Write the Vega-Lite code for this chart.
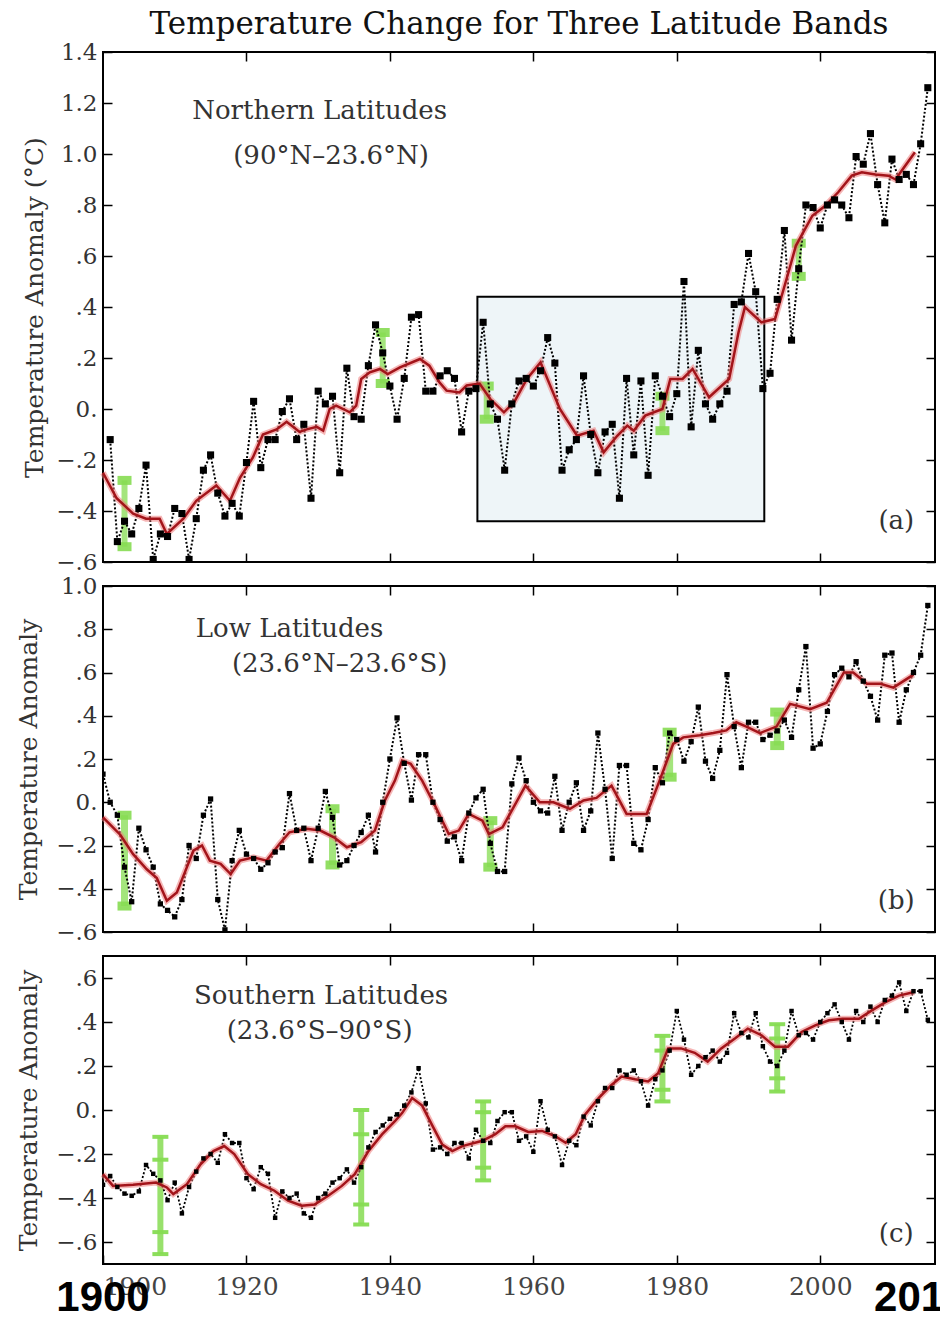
{
  "$schema": "https://vega.github.io/schema/vega-lite/v6.json",
  "background": "white",
  "padding": {"left": 15, "top": 8, "right": 0, "bottom": 0},
  "bounds": "flush",
  "spacing": 24,
  "config": {
    "view": {"stroke": "black", "strokeWidth": 2},
    "font": "DejaVu Serif",
    "axis": {"domain": false, "grid": false, "tickColor": "black", "tickWidth": 1.5, "tickSize": -9, "labelFont": "DejaVu Serif", "labelFontSize": 23, "labelColor": "#333", "titleFont": "DejaVu Serif", "titleFontWeight": "normal", "titleFontSize": 25, "titleColor": "#333"}
  },
  "datasets": {
    "obsA": [
      {"year":1901,"t":-0.12},{"year":1902,"t":-0.52},{"year":1903,"t":-0.44},{"year":1904,"t":-0.49},{"year":1905,"t":-0.39},{"year":1906,"t":-0.22},{"year":1907,"t":-0.59},{"year":1908,"t":-0.49},{"year":1909,"t":-0.50},{"year":1910,"t":-0.39},
      {"year":1911,"t":-0.41},{"year":1912,"t":-0.59},{"year":1913,"t":-0.43},{"year":1914,"t":-0.24},{"year":1915,"t":-0.18},{"year":1916,"t":-0.33},{"year":1917,"t":-0.42},{"year":1918,"t":-0.37},{"year":1919,"t":-0.42},{"year":1920,"t":-0.21},
      {"year":1921,"t":0.03},{"year":1922,"t":-0.23},{"year":1923,"t":-0.12},{"year":1924,"t":-0.12},{"year":1925,"t":-0.01},{"year":1926,"t":0.04},{"year":1927,"t":-0.12},{"year":1928,"t":-0.06},{"year":1929,"t":-0.35},{"year":1930,"t":0.07},
      {"year":1931,"t":0.02},{"year":1932,"t":0.05},{"year":1933,"t":-0.25},{"year":1934,"t":0.16},{"year":1935,"t":-0.03},{"year":1936,"t":-0.04},{"year":1937,"t":0.17},{"year":1938,"t":0.33},{"year":1939,"t":0.22},{"year":1940,"t":0.09},
      {"year":1941,"t":-0.04},{"year":1942,"t":0.12},{"year":1943,"t":0.36},{"year":1944,"t":0.37},{"year":1945,"t":0.07},{"year":1946,"t":0.07},{"year":1947,"t":0.13},{"year":1948,"t":0.15},{"year":1949,"t":0.12},{"year":1950,"t":-0.09},
      {"year":1951,"t":0.07},{"year":1952,"t":0.08},{"year":1953,"t":0.34},{"year":1954,"t":0.02},{"year":1955,"t":-0.04},{"year":1956,"t":-0.24},{"year":1957,"t":0.02},{"year":1958,"t":0.11},{"year":1959,"t":0.12},{"year":1960,"t":0.09},
      {"year":1961,"t":0.15},{"year":1962,"t":0.28},{"year":1963,"t":0.18},{"year":1964,"t":-0.24},{"year":1965,"t":-0.16},{"year":1966,"t":-0.12},{"year":1967,"t":0.13},{"year":1968,"t":-0.10},{"year":1969,"t":-0.25},{"year":1970,"t":-0.09},
      {"year":1971,"t":-0.06},{"year":1972,"t":-0.35},{"year":1973,"t":0.12},{"year":1974,"t":-0.18},{"year":1975,"t":0.11},{"year":1976,"t":-0.26},{"year":1977,"t":0.13},{"year":1978,"t":0.05},{"year":1979,"t":-0.03},{"year":1980,"t":0.06},
      {"year":1981,"t":0.50},{"year":1982,"t":-0.07},{"year":1983,"t":0.23},{"year":1984,"t":0.02},{"year":1985,"t":-0.04},{"year":1986,"t":0.02},{"year":1987,"t":0.07},{"year":1988,"t":0.41},{"year":1989,"t":0.42},{"year":1990,"t":0.61},
      {"year":1991,"t":0.46},{"year":1992,"t":0.08},{"year":1993,"t":0.14},{"year":1994,"t":0.43},{"year":1995,"t":0.70},{"year":1996,"t":0.27},{"year":1997,"t":0.55},{"year":1998,"t":0.80},{"year":1999,"t":0.79},{"year":2000,"t":0.71},
      {"year":2001,"t":0.80},{"year":2002,"t":0.82},{"year":2003,"t":0.80},{"year":2004,"t":0.75},{"year":2005,"t":0.99},{"year":2006,"t":0.96},{"year":2007,"t":1.08},{"year":2008,"t":0.88},{"year":2009,"t":0.73},{"year":2010,"t":0.98},
      {"year":2011,"t":0.90},{"year":2012,"t":0.92},{"year":2013,"t":0.88},{"year":2014,"t":1.04},{"year":2015,"t":1.26}
    ],
    "smoothA": [
      {"year":1900,"t":-0.25},{"year":1901.9,"t":-0.35},{"year":1904.2,"t":-0.41},{"year":1906,"t":-0.43},{"year":1907.9,"t":-0.43},{"year":1908.9,"t":-0.49},{"year":1911.2,"t":-0.43},{"year":1913,"t":-0.36},{"year":1915.8,"t":-0.30},{"year":1917.7,"t":-0.36},
      {"year":1919.1,"t":-0.27},{"year":1920.9,"t":-0.19},{"year":1922.3,"t":-0.10},{"year":1924.2,"t":-0.08},{"year":1925.6,"t":-0.05},{"year":1926.5,"t":-0.07},{"year":1927.4,"t":-0.09},{"year":1928.4,"t":-0.08},{"year":1929.8,"t":-0.07},{"year":1930.7,"t":-0.085},
      {"year":1931.6,"t":0.0},{"year":1932.5,"t":0.013},{"year":1933.5,"t":0.0},{"year":1934.4,"t":-0.013},{"year":1935.3,"t":0.013},{"year":1936,"t":0.118},{"year":1937.2,"t":0.144},{"year":1938.6,"t":0.157},{"year":1939.7,"t":0.137},{"year":1941.4,"t":0.163},
      {"year":1944.2,"t":0.196},{"year":1945.5,"t":0.17},{"year":1946.9,"t":0.105},{"year":1947.9,"t":0.072},{"year":1949.7,"t":0.065},{"year":1950.7,"t":0.092},{"year":1952.5,"t":0.10},{"year":1954,"t":0.039},{"year":1955.9,"t":-0.013},{"year":1957.3,"t":0.026},
      {"year":1959.1,"t":0.118},{"year":1961,"t":0.183},{"year":1963.7,"t":0.0},{"year":1966.1,"t":-0.105},{"year":1968.4,"t":-0.085},{"year":1969.8,"t":-0.17},{"year":1971.7,"t":-0.105},{"year":1973.1,"t":-0.065},{"year":1974,"t":-0.085},{"year":1975.6,"t":-0.026},
      {"year":1978,"t":0.0},{"year":1979.1,"t":0.118},{"year":1980.8,"t":0.118},{"year":1982.2,"t":0.157},{"year":1984.5,"t":0.046},{"year":1987.3,"t":0.118},{"year":1988.6,"t":0.30},{"year":1989.5,"t":0.40},{"year":1991.8,"t":0.34},{"year":1993.7,"t":0.353},
      {"year":1995.7,"t":0.549},{"year":1996.6,"t":0.64},{"year":1998.9,"t":0.758},{"year":2000.7,"t":0.797},{"year":2002.5,"t":0.85},{"year":2004.4,"t":0.915},{"year":2005.8,"t":0.928},{"year":2007.7,"t":0.92},{"year":2009.5,"t":0.915},{"year":2010.5,"t":0.90},
      {"year":2011.5,"t":0.94},{"year":2013.2,"t":1.007}
    ],
    "errA": [
      {"year":1903,"lo":-0.54,"hi":-0.28},{"year":1939,"lo":0.10,"hi":0.30},{"year":1953.5,"lo":-0.04,"hi":0.09},{"year":1978,"lo":-0.085,"hi":0.05},{"year":1997,"lo":0.52,"hi":0.65}
    ],
    "obsB": [
      {"year":1900,"t":0.13},{"year":1901,"t":0.0},{"year":1902,"t":-0.06},{"year":1903,"t":-0.30},{"year":1904,"t":-0.46},{"year":1905,"t":-0.12},{"year":1906,"t":-0.22},{"year":1907,"t":-0.30},{"year":1908,"t":-0.47},{"year":1909,"t":-0.50},
      {"year":1910,"t":-0.53},{"year":1911,"t":-0.45},{"year":1912,"t":-0.20},{"year":1913,"t":-0.26},{"year":1914,"t":-0.06},{"year":1915,"t":0.015},{"year":1916,"t":-0.45},{"year":1917,"t":-0.59},{"year":1918,"t":-0.27},{"year":1919,"t":-0.13},
      {"year":1920,"t":-0.24},{"year":1921,"t":-0.26},{"year":1922,"t":-0.31},{"year":1923,"t":-0.28},{"year":1924,"t":-0.23},{"year":1925,"t":-0.21},{"year":1926,"t":0.04},{"year":1927,"t":-0.13},{"year":1928,"t":-0.12},{"year":1929,"t":-0.27},
      {"year":1930,"t":-0.12},{"year":1931,"t":0.05},{"year":1932,"t":-0.07},{"year":1933,"t":-0.29},{"year":1934,"t":-0.27},{"year":1935,"t":-0.20},{"year":1936,"t":-0.14},{"year":1937,"t":-0.06},{"year":1938,"t":-0.23},{"year":1939,"t":0.0},
      {"year":1940,"t":0.20},{"year":1941,"t":0.39},{"year":1942,"t":0.18},{"year":1943,"t":0.01},{"year":1944,"t":0.22},{"year":1945,"t":0.22},{"year":1946,"t":0.0},{"year":1947,"t":-0.08},{"year":1948,"t":-0.18},{"year":1949,"t":-0.16},
      {"year":1950,"t":-0.27},{"year":1951,"t":-0.05},{"year":1952,"t":0.02},{"year":1953,"t":0.06},{"year":1954,"t":-0.19},{"year":1955,"t":-0.32},{"year":1956,"t":-0.32},{"year":1957,"t":0.085},{"year":1958,"t":0.205},{"year":1959,"t":0.10},
      {"year":1960,"t":0.0},{"year":1961,"t":-0.04},{"year":1962,"t":-0.05},{"year":1963,"t":0.12},{"year":1964,"t":-0.13},{"year":1965,"t":0.0},{"year":1966,"t":0.09},{"year":1967,"t":-0.13},{"year":1968,"t":-0.04},{"year":1969,"t":0.32},
      {"year":1970,"t":0.06},{"year":1971,"t":-0.26},{"year":1972,"t":0.17},{"year":1973,"t":0.17},{"year":1974,"t":-0.19},{"year":1975,"t":-0.22},{"year":1976,"t":-0.08},{"year":1977,"t":0.16},{"year":1978,"t":0.09},{"year":1979,"t":0.32},
      {"year":1980,"t":0.29},{"year":1981,"t":0.19},{"year":1982,"t":0.28},{"year":1983,"t":0.44},{"year":1984,"t":0.19},{"year":1985,"t":0.11},{"year":1986,"t":0.24},{"year":1987,"t":0.59},{"year":1988,"t":0.35},{"year":1989,"t":0.16},
      {"year":1990,"t":0.37},{"year":1991,"t":0.37},{"year":1992,"t":0.29},{"year":1993,"t":0.31},{"year":1994,"t":0.33},{"year":1995,"t":0.38},{"year":1996,"t":0.30},{"year":1997,"t":0.52},{"year":1998,"t":0.72},{"year":1999,"t":0.25},
      {"year":2000,"t":0.27},{"year":2001,"t":0.42},{"year":2002,"t":0.59},{"year":2003,"t":0.62},{"year":2004,"t":0.58},{"year":2005,"t":0.65},{"year":2006,"t":0.56},{"year":2007,"t":0.49},{"year":2008,"t":0.38},{"year":2009,"t":0.68},
      {"year":2010,"t":0.69},{"year":2011,"t":0.37},{"year":2012,"t":0.52},{"year":2013,"t":0.60},{"year":2014,"t":0.68},{"year":2015,"t":0.91}
    ],
    "smoothB": [
      {"year":1900,"t":-0.07},{"year":1902.4,"t":-0.15},{"year":1904.2,"t":-0.24},{"year":1906.1,"t":-0.31},{"year":1907.5,"t":-0.35},{"year":1908.9,"t":-0.455},{"year":1910.3,"t":-0.417},{"year":1911.7,"t":-0.30},{"year":1912.6,"t":-0.224},{"year":1913.8,"t":-0.20},
      {"year":1914.9,"t":-0.27},{"year":1916.4,"t":-0.285},{"year":1917.8,"t":-0.332},{"year":1919.1,"t":-0.27},{"year":1921,"t":-0.255},{"year":1922.8,"t":-0.27},{"year":1924.6,"t":-0.193},{"year":1926,"t":-0.139},{"year":1928.4,"t":-0.123},{"year":1930.3,"t":-0.131},
      {"year":1932.2,"t":-0.162},{"year":1934,"t":-0.208},{"year":1936,"t":-0.185},{"year":1937.9,"t":-0.131},{"year":1939.3,"t":0.008},{"year":1940.7,"t":0.10},{"year":1941.7,"t":0.193},{"year":1942.9,"t":0.178},{"year":1944.5,"t":0.10},{"year":1946.4,"t":-0.023},
      {"year":1948.2,"t":-0.147},{"year":1949.6,"t":-0.131},{"year":1951,"t":-0.054},{"year":1952.9,"t":-0.085},{"year":1953.8,"t":-0.147},{"year":1955.7,"t":-0.116},{"year":1958.9,"t":0.077},{"year":1960.9,"t":0.0},{"year":1962.8,"t":0.0},{"year":1965.1,"t":-0.031},
      {"year":1967,"t":0.008},{"year":1968.8,"t":0.02},{"year":1970.9,"t":0.077},{"year":1973,"t":-0.054},{"year":1975.8,"t":-0.054},{"year":1977.6,"t":0.10},{"year":1979.5,"t":0.27},{"year":1980.9,"t":0.30},{"year":1983.2,"t":0.31},{"year":1985.1,"t":0.32},
      {"year":1986.9,"t":0.332},{"year":1988.3,"t":0.37},{"year":1989.7,"t":0.35},{"year":1991.6,"t":0.32},{"year":1993.9,"t":0.35},{"year":1995.8,"t":0.455},{"year":1998.6,"t":0.43},{"year":2000.9,"t":0.46},{"year":2003.3,"t":0.60},{"year":2004.6,"t":0.60},
      {"year":2006.5,"t":0.548},{"year":2008.4,"t":0.548},{"year":2010.2,"t":0.53},{"year":2011.6,"t":0.56},{"year":2013,"t":0.59}
    ],
    "errB": [
      {"year":1903,"lo":-0.48,"hi":-0.06},{"year":1932,"lo":-0.29,"hi":-0.03},{"year":1954,"lo":-0.30,"hi":-0.085},{"year":1979,"lo":0.116,"hi":0.324},{"year":1994,"lo":0.262,"hi":0.417}
    ],
    "obsC": [
      {"year":1900,"t":-0.34},{"year":1901,"t":-0.30},{"year":1902,"t":-0.35},{"year":1903,"t":-0.38},{"year":1904,"t":-0.39},{"year":1905,"t":-0.37},{"year":1906,"t":-0.25},{"year":1907,"t":-0.29},{"year":1908,"t":-0.32},{"year":1909,"t":-0.41},
      {"year":1910,"t":-0.33},{"year":1911,"t":-0.47},{"year":1912,"t":-0.35},{"year":1913,"t":-0.28},{"year":1914,"t":-0.22},{"year":1915,"t":-0.20},{"year":1916,"t":-0.24},{"year":1917,"t":-0.11},{"year":1918,"t":-0.15},{"year":1919,"t":-0.15},
      {"year":1920,"t":-0.31},{"year":1921,"t":-0.36},{"year":1922,"t":-0.26},{"year":1923,"t":-0.29},{"year":1924,"t":-0.49},{"year":1925,"t":-0.37},{"year":1926,"t":-0.40},{"year":1927,"t":-0.38},{"year":1928,"t":-0.47},{"year":1929,"t":-0.49},
      {"year":1930,"t":-0.40},{"year":1931,"t":-0.38},{"year":1932,"t":-0.33},{"year":1933,"t":-0.31},{"year":1934,"t":-0.27},{"year":1935,"t":-0.33},{"year":1936,"t":-0.26},{"year":1937,"t":-0.17},{"year":1938,"t":-0.10},{"year":1939,"t":-0.07},
      {"year":1940,"t":-0.04},{"year":1941,"t":-0.02},{"year":1942,"t":0.02},{"year":1943,"t":0.08},{"year":1944,"t":0.19},{"year":1945,"t":0.03},{"year":1946,"t":-0.18},{"year":1947,"t":-0.17},{"year":1948,"t":-0.20},{"year":1949,"t":-0.15},
      {"year":1950,"t":-0.15},{"year":1951,"t":-0.22},{"year":1952,"t":-0.09},{"year":1953,"t":-0.14},{"year":1954,"t":-0.15},{"year":1955,"t":-0.05},{"year":1956,"t":-0.01},{"year":1957,"t":-0.01},{"year":1958,"t":-0.14},{"year":1959,"t":-0.12},
      {"year":1960,"t":-0.19},{"year":1961,"t":0.04},{"year":1962,"t":-0.09},{"year":1963,"t":-0.12},{"year":1964,"t":-0.25},{"year":1965,"t":-0.14},{"year":1966,"t":-0.16},{"year":1967,"t":-0.03},{"year":1968,"t":-0.07},{"year":1969,"t":0.04},
      {"year":1970,"t":0.10},{"year":1971,"t":0.10},{"year":1972,"t":0.18},{"year":1973,"t":0.16},{"year":1974,"t":0.18},{"year":1975,"t":0.13},{"year":1976,"t":0.02},{"year":1977,"t":0.14},{"year":1978,"t":0.18},{"year":1979,"t":0.27},
      {"year":1980,"t":0.45},{"year":1981,"t":0.32},{"year":1982,"t":0.16},{"year":1983,"t":0.20},{"year":1984,"t":0.24},{"year":1985,"t":0.27},{"year":1986,"t":0.22},{"year":1987,"t":0.26},{"year":1988,"t":0.44},{"year":1989,"t":0.35},
      {"year":1990,"t":0.33},{"year":1991,"t":0.44},{"year":1992,"t":0.29},{"year":1993,"t":0.22},{"year":1994,"t":0.20},{"year":1995,"t":0.27},{"year":1996,"t":0.45},{"year":1997,"t":0.34},{"year":1998,"t":0.35},{"year":1999,"t":0.32},
      {"year":2000,"t":0.40},{"year":2001,"t":0.44},{"year":2002,"t":0.48},{"year":2003,"t":0.40},{"year":2004,"t":0.32},{"year":2005,"t":0.45},{"year":2006,"t":0.40},{"year":2007,"t":0.47},{"year":2008,"t":0.40},{"year":2009,"t":0.50},
      {"year":2010,"t":0.52},{"year":2011,"t":0.58},{"year":2012,"t":0.45},{"year":2013,"t":0.54},{"year":2014,"t":0.54},{"year":2015,"t":0.41}
    ],
    "smoothC": [
      {"year":1900,"t":-0.292},{"year":1901.4,"t":-0.345},{"year":1904.2,"t":-0.34},{"year":1907.4,"t":-0.33},{"year":1908.9,"t":-0.352},{"year":1909.8,"t":-0.382},{"year":1911.7,"t":-0.337},{"year":1913.6,"t":-0.247},{"year":1915.4,"t":-0.187},{"year":1916.9,"t":-0.164},
      {"year":1918.3,"t":-0.20},{"year":1920.2,"t":-0.292},{"year":1922,"t":-0.337},{"year":1923.9,"t":-0.367},{"year":1925.8,"t":-0.412},{"year":1927.7,"t":-0.435},{"year":1929.5,"t":-0.43},{"year":1931.4,"t":-0.39},{"year":1933.3,"t":-0.345},{"year":1935.1,"t":-0.292},
      {"year":1937,"t":-0.187},{"year":1938.9,"t":-0.111},{"year":1940.7,"t":-0.051},{"year":1941.7,"t":-0.014},{"year":1943.1,"t":0.054},{"year":1944.5,"t":0.02},{"year":1945.9,"t":-0.07},{"year":1947.3,"t":-0.157},{"year":1948.7,"t":-0.187},{"year":1950.1,"t":-0.164},
      {"year":1952.9,"t":-0.14},{"year":1954.7,"t":-0.11},{"year":1956.1,"t":-0.074},{"year":1957.5,"t":-0.074},{"year":1959.3,"t":-0.10},{"year":1961.2,"t":-0.095},{"year":1963.1,"t":-0.12},{"year":1964.5,"t":-0.149},{"year":1965.9,"t":-0.11},{"year":1967.2,"t":-0.021},
      {"year":1969.1,"t":0.054},{"year":1970.9,"t":0.114},{"year":1972.3,"t":0.152},{"year":1974.2,"t":0.14},{"year":1976,"t":0.13},{"year":1977.4,"t":0.167},{"year":1978.8,"t":0.28},{"year":1980.6,"t":0.28},{"year":1982.5,"t":0.26},{"year":1984.3,"t":0.22},
      {"year":1986.2,"t":0.28},{"year":1988.1,"t":0.325},{"year":1989.9,"t":0.37},{"year":1991.8,"t":0.34},{"year":1993.7,"t":0.288},{"year":1995.5,"t":0.288},{"year":1997.4,"t":0.355},{"year":1999.3,"t":0.385},{"year":2001.2,"t":0.408},{"year":2003.1,"t":0.415},
      {"year":2005.4,"t":0.415},{"year":2007.2,"t":0.453},{"year":2009.1,"t":0.49},{"year":2011,"t":0.52},{"year":2013.1,"t":0.536}
    ],
    "errC": [
      {"year":1908,"lo":-0.655,"lo2":-0.555,"hi2":-0.226,"hi":-0.122},
      {"year":1936,"lo":-0.52,"lo2":-0.43,"hi2":-0.11,"hi":0.0},
      {"year":1953,"lo":-0.32,"lo2":-0.262,"hi2":-0.01,"hi":0.039},
      {"year":1978,"lo":0.039,"lo2":0.092,"hi2":0.27,"hi":0.337},
      {"year":1994,"lo":0.084,"lo2":0.144,"hi2":0.325,"hi":0.39}
    ]
  },
  "vconcat": [
    {
      "width": 832, "height": 510,
      "title": {"text": "Temperature Change for Three Latitude Bands", "frame": "group", "anchor": "middle", "font": "DejaVu Serif", "fontSize": 31, "fontWeight": "normal", "color": "#111", "offset": 0},
      "layer": [
        {
          "data": {"values": [{"start": 1952.2, "end": 1992.2, "lo": -0.44, "hi": 0.44}]},
          "mark": {"type": "rect", "fill": "#eef5f8", "stroke": "black", "strokeWidth": 2},
          "encoding": {
            "x": {"field": "start", "type": "quantitative", "scale": {"domain": [1900, 2016], "nice": false, "zero": false}, "axis": {"orient": "bottom", "values": [1920, 1940, 1960, 1980, 2000], "labels": false, "title": null}},
            "x2": {"field": "end"},
            "y": {"field": "lo", "type": "quantitative", "scale": {"domain": [-0.6, 1.4], "nice": false, "zero": false}, "axis": {"orient": "left", "values": [-0.6, -0.4, -0.2, 0, 0.2, 0.4, 0.6, 0.8, 1.0, 1.2, 1.4], "labelPadding": 15, "labelExpr": "abs(datum.value) < 0.001 ? '0.' : abs(datum.value) > 0.999 ? format(datum.value, '.1f') : replace(format(datum.value, '.1f'), '0.', '.')", "title": "Temperature Anomaly (°C)", "titlePadding": 8}},
            "y2": {"field": "hi"}
          }
        },
        {
          "data": {"name": "errA"},
          "mark": {"type": "rule", "color": "#86dc52", "strokeWidth": 6, "opacity": 0.75},
          "encoding": {"x": {"field": "year", "type": "quantitative", "axis": null}, "y": {"field": "lo", "type": "quantitative", "axis": null}, "y2": {"field": "hi"}}
        },
        {
          "data": {"name": "errA"},
          "transform": [{"fold": ["lo", "hi"], "as": ["k", "t"]}],
          "mark": {"type": "tick", "orient": "horizontal", "color": "#86dc52", "size": 14, "thickness": 9, "opacity": 0.9},
          "encoding": {"x": {"field": "year", "type": "quantitative", "axis": null}, "y": {"field": "t", "type": "quantitative", "axis": null}}
        },
        {
          "data": {"name": "obsA"},
          "mark": {"type": "line", "color": "black", "strokeWidth": 2, "strokeDash": [2, 2], "clip": true},
          "encoding": {
            "x": {"field": "year", "type": "quantitative", "axis": {"orient": "top", "values": [1920, 1940, 1960, 1980, 2000], "labels": false, "title": null}},
            "y": {"field": "t", "type": "quantitative", "axis": {"orient": "right", "values": [-0.6, -0.4, -0.2, 0, 0.2, 0.4, 0.6, 0.8, 1.0, 1.2, 1.4], "labels": false, "title": null}}
          }
        },
        {
          "data": {"name": "smoothA"},
          "mark": {"type": "line", "color": "#ee7b7b", "strokeWidth": 6, "opacity": 0.55},
          "encoding": {"x": {"field": "year", "type": "quantitative", "axis": null}, "y": {"field": "t", "type": "quantitative", "axis": null}}
        },
        {
          "data": {"name": "smoothA"},
          "mark": {"type": "line", "color": "#a3141a", "strokeWidth": 2.5},
          "encoding": {"x": {"field": "year", "type": "quantitative", "axis": null}, "y": {"field": "t", "type": "quantitative", "axis": null}}
        },
        {
          "data": {"name": "obsA"},
          "mark": {"type": "point", "shape": "square", "filled": true, "color": "black", "size": 50, "opacity": 1, "clip": true},
          "encoding": {"x": {"field": "year", "type": "quantitative", "axis": null}, "y": {"field": "t", "type": "quantitative", "axis": null}}
        },
        {
          "data": {"values": [{}]},
          "mark": {"type": "text", "font": "DejaVu Serif", "fontSize": 26, "color": "#333", "align": "center", "baseline": "middle"},
          "encoding": {"x": {"datum": 1930.2, "type": "quantitative", "axis": null}, "y": {"datum": 1.169, "type": "quantitative", "axis": null}, "text": {"value": "Northern Latitudes"}}
        },
        {
          "data": {"values": [{}]},
          "mark": {"type": "text", "font": "DejaVu Serif", "fontSize": 26, "color": "#333", "align": "center", "baseline": "middle"},
          "encoding": {"x": {"datum": 1931.8, "type": "quantitative", "axis": null}, "y": {"datum": 0.992, "type": "quantitative", "axis": null}, "text": {"value": "(90°N–23.6°N)"}}
        },
        {
          "data": {"values": [{}]},
          "mark": {"type": "text", "font": "DejaVu Serif", "fontSize": 26, "color": "#333", "align": "center", "baseline": "middle"},
          "encoding": {"x": {"datum": 2010.6, "type": "quantitative", "axis": null}, "y": {"datum": -0.44, "type": "quantitative", "axis": null}, "text": {"value": "(a)"}}
        }
      ],
      "resolve": {"axis": {"x": "independent", "y": "independent"}}
    },
    {
      "width": 832, "height": 346,
      "layer": [
        {
          "data": {"name": "errB"},
          "mark": {"type": "rule", "color": "#86dc52", "strokeWidth": 7, "opacity": 0.75},
          "encoding": {
            "x": {"field": "year", "type": "quantitative", "scale": {"domain": [1900, 2016], "nice": false, "zero": false}, "axis": {"orient": "bottom", "values": [1920, 1940, 1960, 1980, 2000], "labels": false, "title": null}},
            "y": {"field": "lo", "type": "quantitative", "scale": {"domain": [-0.6, 1.0], "nice": false, "zero": false}, "axis": {"orient": "left", "values": [-0.6, -0.4, -0.2, 0, 0.2, 0.4, 0.6, 0.8, 1.0], "labelPadding": 15, "labelExpr": "abs(datum.value) < 0.001 ? '0.' : abs(datum.value) > 0.999 ? format(datum.value, '.1f') : replace(format(datum.value, '.1f'), '0.', '.')", "title": "Temperature Anomaly", "titlePadding": 14}},
            "y2": {"field": "hi"}
          }
        },
        {
          "data": {"name": "errB"},
          "transform": [{"fold": ["lo", "hi"], "as": ["k", "t"]}],
          "mark": {"type": "tick", "orient": "horizontal", "color": "#86dc52", "size": 14, "thickness": 9, "opacity": 0.9},
          "encoding": {"x": {"field": "year", "type": "quantitative", "axis": null}, "y": {"field": "t", "type": "quantitative", "axis": null}}
        },
        {
          "data": {"name": "obsB"},
          "mark": {"type": "line", "color": "black", "strokeWidth": 2, "strokeDash": [2, 2], "clip": true},
          "encoding": {
            "x": {"field": "year", "type": "quantitative", "axis": {"orient": "top", "values": [1920, 1940, 1960, 1980, 2000], "labels": false, "title": null}},
            "y": {"field": "t", "type": "quantitative", "axis": {"orient": "right", "values": [-0.6, -0.4, -0.2, 0, 0.2, 0.4, 0.6, 0.8, 1.0], "labels": false, "title": null}}
          }
        },
        {
          "data": {"name": "smoothB"},
          "mark": {"type": "line", "color": "#ee7b7b", "strokeWidth": 6, "opacity": 0.55},
          "encoding": {"x": {"field": "year", "type": "quantitative", "axis": null}, "y": {"field": "t", "type": "quantitative", "axis": null}}
        },
        {
          "data": {"name": "smoothB"},
          "mark": {"type": "line", "color": "#a3141a", "strokeWidth": 2.5},
          "encoding": {"x": {"field": "year", "type": "quantitative", "axis": null}, "y": {"field": "t", "type": "quantitative", "axis": null}}
        },
        {
          "data": {"name": "obsB"},
          "mark": {"type": "point", "shape": "square", "filled": true, "color": "black", "size": 28, "opacity": 1, "clip": true},
          "encoding": {"x": {"field": "year", "type": "quantitative", "axis": null}, "y": {"field": "t", "type": "quantitative", "axis": null}}
        },
        {
          "data": {"values": [{}]},
          "mark": {"type": "text", "font": "DejaVu Serif", "fontSize": 26, "color": "#333", "align": "center", "baseline": "middle"},
          "encoding": {"x": {"datum": 1926, "type": "quantitative", "axis": null}, "y": {"datum": 0.80, "type": "quantitative", "axis": null}, "text": {"value": "Low Latitudes"}}
        },
        {
          "data": {"values": [{}]},
          "mark": {"type": "text", "font": "DejaVu Serif", "fontSize": 26, "color": "#333", "align": "center", "baseline": "middle"},
          "encoding": {"x": {"datum": 1933, "type": "quantitative", "axis": null}, "y": {"datum": 0.639, "type": "quantitative", "axis": null}, "text": {"value": "(23.6°N–23.6°S)"}}
        },
        {
          "data": {"values": [{}]},
          "mark": {"type": "text", "font": "DejaVu Serif", "fontSize": 26, "color": "#333", "align": "center", "baseline": "middle"},
          "encoding": {"x": {"datum": 2010.6, "type": "quantitative", "axis": null}, "y": {"datum": -0.458, "type": "quantitative", "axis": null}, "text": {"value": "(b)"}}
        }
      ],
      "resolve": {"axis": {"x": "independent", "y": "independent"}}
    },
    {
      "width": 832, "height": 308,
      "layer": [
        {
          "data": {"name": "errC"},
          "mark": {"type": "rule", "color": "#86dc52", "strokeWidth": 6, "opacity": 0.85},
          "encoding": {
            "x": {"field": "year", "type": "quantitative", "scale": {"domain": [1900, 2016], "nice": false, "zero": false}, "axis": {"orient": "bottom", "values": [1900, 1920, 1940, 1960, 1980, 2000], "format": "d", "labelPadding": 19, "labelFontSize": 25, "labelColor": "#444", "title": null}},
            "y": {"field": "lo", "type": "quantitative", "scale": {"domain": [-0.7, 0.7], "nice": false, "zero": false}, "axis": {"orient": "left", "values": [-0.6, -0.4, -0.2, 0, 0.2, 0.4, 0.6], "labelPadding": 15, "labelExpr": "abs(datum.value) < 0.001 ? '0.' : abs(datum.value) > 0.999 ? format(datum.value, '.1f') : replace(format(datum.value, '.1f'), '0.', '.')", "title": "Temperature Anomaly", "titlePadding": 14}},
            "y2": {"field": "hi"}
          }
        },
        {
          "data": {"name": "errC"},
          "transform": [{"fold": ["lo", "lo2", "hi2", "hi"], "as": ["k", "t"]}],
          "mark": {"type": "tick", "orient": "horizontal", "color": "#86dc52", "size": 16, "thickness": 4, "opacity": 0.95},
          "encoding": {"x": {"field": "year", "type": "quantitative", "axis": null}, "y": {"field": "t", "type": "quantitative", "axis": null}}
        },
        {
          "data": {"name": "obsC"},
          "mark": {"type": "line", "color": "black", "strokeWidth": 1.8, "strokeDash": [2, 2], "clip": true},
          "encoding": {
            "x": {"field": "year", "type": "quantitative", "axis": {"orient": "top", "values": [1920, 1940, 1960, 1980, 2000], "labels": false, "title": null}},
            "y": {"field": "t", "type": "quantitative", "axis": {"orient": "right", "values": [-0.6, -0.4, -0.2, 0, 0.2, 0.4, 0.6], "labels": false, "title": null}}
          }
        },
        {
          "data": {"name": "smoothC"},
          "mark": {"type": "line", "color": "#ee7b7b", "strokeWidth": 6, "opacity": 0.55},
          "encoding": {"x": {"field": "year", "type": "quantitative", "axis": null}, "y": {"field": "t", "type": "quantitative", "axis": null}}
        },
        {
          "data": {"name": "smoothC"},
          "mark": {"type": "line", "color": "#a3141a", "strokeWidth": 2.5},
          "encoding": {"x": {"field": "year", "type": "quantitative", "axis": null}, "y": {"field": "t", "type": "quantitative", "axis": null}}
        },
        {
          "data": {"name": "obsC"},
          "mark": {"type": "point", "shape": "square", "filled": true, "color": "black", "size": 20, "opacity": 1, "clip": true},
          "encoding": {"x": {"field": "year", "type": "quantitative", "axis": null}, "y": {"field": "t", "type": "quantitative", "axis": null}}
        },
        {
          "data": {"values": [{}]},
          "mark": {"type": "text", "font": "DejaVu Serif", "fontSize": 26, "color": "#333", "align": "center", "baseline": "middle"},
          "encoding": {"x": {"datum": 1930.4, "type": "quantitative", "axis": null}, "y": {"datum": 0.519, "type": "quantitative", "axis": null}, "text": {"value": "Southern Latitudes"}}
        },
        {
          "data": {"values": [{}]},
          "mark": {"type": "text", "font": "DejaVu Serif", "fontSize": 26, "color": "#333", "align": "center", "baseline": "middle"},
          "encoding": {"x": {"datum": 1930.2, "type": "quantitative", "axis": null}, "y": {"datum": 0.361, "type": "quantitative", "axis": null}, "text": {"value": "(23.6°S–90°S)"}}
        },
        {
          "data": {"values": [{}]},
          "mark": {"type": "text", "font": "DejaVu Serif", "fontSize": 26, "color": "#333", "align": "center", "baseline": "middle"},
          "encoding": {"x": {"datum": 2010.6, "type": "quantitative", "axis": null}, "y": {"datum": -0.564, "type": "quantitative", "axis": null}, "text": {"value": "(c)"}}
        },
        {
          "data": {"values": [{}]},
          "mark": {"type": "text", "font": "Liberation Sans", "fontSize": 42, "fontWeight": "bold", "color": "black", "align": "center", "baseline": "alphabetic", "dy": 47},
          "encoding": {"x": {"datum": 1900, "type": "quantitative", "axis": null}, "y": {"datum": -0.7, "type": "quantitative", "axis": null}, "text": {"value": "1900"}}
        },
        {
          "data": {"values": [{}]},
          "mark": {"type": "text", "font": "Liberation Sans", "fontSize": 42, "fontWeight": "bold", "color": "black", "align": "left", "baseline": "alphabetic", "dy": 47},
          "encoding": {"x": {"datum": 2007.5, "type": "quantitative", "axis": null}, "y": {"datum": -0.7, "type": "quantitative", "axis": null}, "text": {"value": "201"}}
        }
      ],
      "resolve": {"axis": {"x": "independent", "y": "independent"}}
    }
  ]
}
